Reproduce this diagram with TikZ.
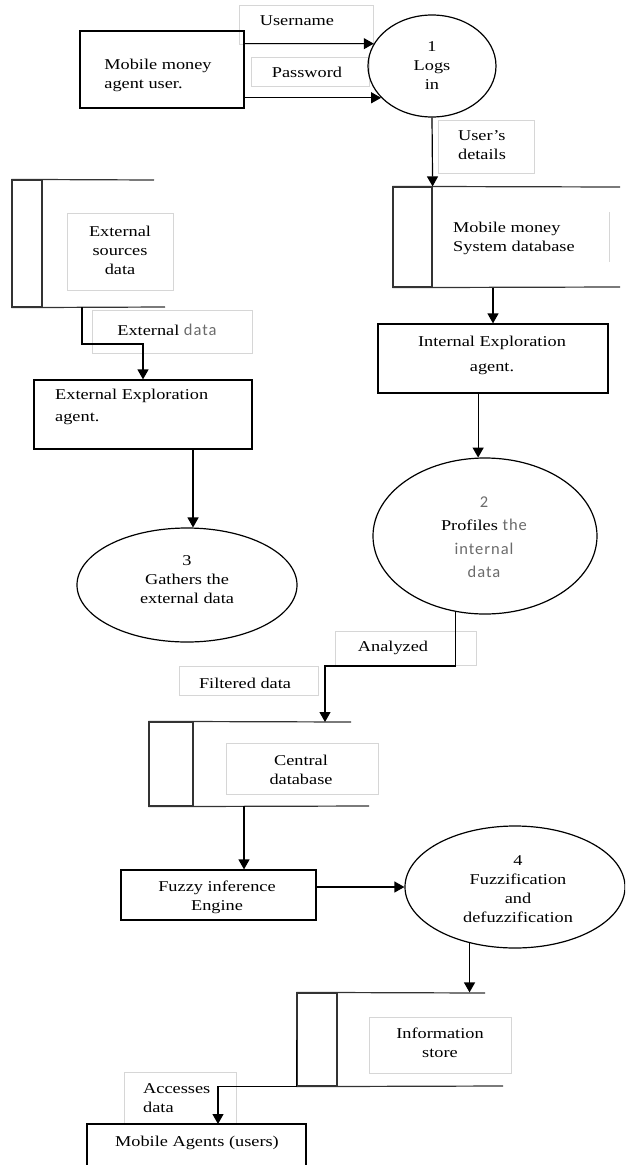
\documentclass[tikz,border=0pt]{standalone}
\usepackage{fontspec}
\setmainfont{Liberation Serif}[FakeStretch=1.22]
\newfontfamily\gsans{Carlito}[LetterSpace=6]
\usetikzlibrary{shapes.geometric,arrows.meta,calc}
\newcommand{\fs}{\fontsize{15}{19}\selectfont}
\definecolor{lblgray}{gray}{0.84}
\definecolor{txtgray}{gray}{0.42}
\newcommand{\gt}[1]{{\gsans\fontsize{16.5}{19}\selectfont\color{txtgray}#1}}
\begin{document}
\begin{tikzpicture}[x=1pt,y=-1pt,font=\fs,
  ln/.style={line width=1.2pt,draw=black},
  arr/.style={ln,-{Triangle[length=10pt,width=11pt]}},
  procbox/.style={draw=black,line width=1.2pt,inner sep=0pt,rectangle},
  procell/.style={draw=black,line width=1.2pt,inner sep=0pt,ellipse,align=center},
  lbl/.style={draw=lblgray,line width=0.8pt,inner sep=0pt,rectangle},
  storebox/.style={draw=black!80,line width=1.2pt,inner sep=0pt,rectangle},
  storeln/.style={draw=black!80,line width=1.2pt},
  txt/.style={inner sep=0pt,align=center}]
\useasboundingbox (0,0) rectangle (625,1165);
\clip (0,0) rectangle (625,1165);

% ---------- faint label boxes ----------
\node[lbl,minimum width=134,minimum height=39] (lbuser) at (306,24.5) {};
\node[lbl,minimum width=118,minimum height=29] (lbpass) at (310,71.5) {};
\node[lbl,minimum width=96,minimum height=53] (lbud) at (486,146.5) {};
\node[lbl,minimum width=106,minimum height=77] (lbesd) at (120,251.5) {};
\node[lbl,minimum width=160,minimum height=43] (lbext) at (172,331.5) {};
\node[lbl,minimum width=141,minimum height=34] (lbana) at (405.5,648) {};
\node[lbl,minimum width=139,minimum height=29] (lbfil) at (248.5,680.5) {};
\node[lbl,minimum width=152,minimum height=51] (lbcdb) at (302,768.5) {};
\node[lbl,minimum width=142,minimum height=56] (lbisd) at (440,1045) {};
\node[lbl,minimum width=112,minimum height=52] (lbacc) at (180,1098) {};
\draw[lblgray,line width=0.8pt] (609,212) -- (609,262);

% ---------- processes / entities ----------
\node[procbox,minimum width=164,minimum height=77] (mob) at (162,69.5) {};
\node[procell,minimum width=128,minimum height=102] (l1) at (432,66)
  {\fontsize{15}{17.5}\selectfont 1\\Logs\\in};
\node[procbox,minimum width=230,minimum height=69] (iea) at (493,358.5) {};
\node[procbox,minimum width=218,minimum height=69] (eea) at (143,414.5) {};
\node[procell,minimum width=220,minimum height=114] (l3) at (187,585) {};
\node[procell,minimum width=224,minimum height=156] (l2) at (485,536) {};
\node[procbox,minimum width=195,minimum height=50] (fie) at (218.5,895) {};
\node[procell,minimum width=220,minimum height=122] (l4) at (515,887) {};
\node[procbox,minimum width=219,minimum height=56] (mag) at (196.5,1152) {};

% ---------- data stores ----------
\node[storebox,minimum width=30,minimum height=127] (esdl) at (27,243.5) {};
\draw[storeln] (esdl.north west) -- (154,180);
\draw[storeln] (esdl.south west) -- (165,307);
\node[storebox,minimum width=39,minimum height=100] (msdl) at (412.5,237) {};
\draw[storeln] (msdl.north west) -- (620,187);
\draw[storeln] (msdl.south west) -- (620,287);
\node[storebox,minimum width=44,minimum height=84] (cdbl) at (171,764) {};
\draw[storeln] (cdbl.north west) -- (351,722);
\draw[storeln] (cdbl.south west) -- (369,806);
\node[storebox,minimum width=40,minimum height=93] (isdl) at (317,1039.5) {};
\draw[storeln] (isdl.north west) -- (485,993);
\draw[storeln] (isdl.south west) -- (503,1086);

% ---------- connector end points ----------
\coordinate (esdout) at (82,307);
\coordinate (cdbin) at (325,722);
\coordinate (cdbout) at (244,806);
\coordinate (magin) at (218,1124);

% ---------- connectors ----------
\draw[arr] (mob.east |- l1.159) -- (l1.159);
\draw[arr] (mob.east |- l1.212) -- (l1.212);
\draw[arr] (l1.south) -- (msdl.north east);
\draw[arr] (iea.north |- msdl.south) -- (iea.north);
\draw[arr] (esdout) -- ++(0,37) -| (eea.north);
\draw[arr] (eea.south -| l3.84) -- (l3.84);
\draw[arr] (iea.south -| l2.95) -- (l2.95);
\draw[arr] (l2.249) |- ($(cdbin)+(0,-56)$) -- (cdbin);
\draw[arr] (cdbout) -- (cdbout |- fie.north);
\draw[arr] (l4.west -| fie.east) -- (l4.west);
\draw[arr] (l4.231) -- (l4.231 |- isdl.north);
\draw[arr] (isdl.west) -- (isdl.south west) -| (magin);

% ---------- texts ----------
\node[txt] (tuser) at (297,21) {Username};
\node[txt] (tpass) at (307,72) {Password};
\node[txt,align=left] (tud) at (482,145) {User's\\details};
\node[txt,align=left] (tmob) at (158,75.5) {Mobile money\\agent user.};
\node[txt] (tesd) at (120,250) {External\\sources\\data};
\node[txt,align=left,anchor=west] (tmsd) at (453,238) {Mobile money\\System database};
\node[txt] (text) at (167,330) {External \gt{data}};
\node[txt] (tiea) at (492,355.5) {Internal Exploration\\[6pt]agent.};
\node[txt,align=left,anchor=north west] (teea) at (55,389) {External Exploration\\[3pt]agent.};
\node[txt] (tl3) at (187,580) {\fontsize{15}{17.5}\selectfont 3\\Gathers the\\external data};
\node[txt] (tl2) at (484,537) {\gt{2}\\[4.5pt]Profiles \gt{the}\\[4.5pt]\gt{internal}\\[4.5pt]\gt{data}};
\node[txt] (tana) at (393,648) {Analyzed};
\node[txt] (tfil) at (245,683) {Filtered data};
\node[txt] (tcdb) at (301,770) {Central\\database};
\node[txt] (tfie) at (217,897) {Fuzzy inference\\Engine};
\node[txt] (tl4) at (518,889.5) {\fontsize{15}{17.7}\selectfont 4\\Fuzzification\\and\\defuzzification};
\node[txt] (tisd) at (440,1043) {Information\\store};
\node[txt,align=left,anchor=west] (tacc) at (143,1098) {Accesses\\data};
\node[txt] (tmag) at (197,1143) {Mobile Agents (users)};
\end{tikzpicture}
\end{document}
